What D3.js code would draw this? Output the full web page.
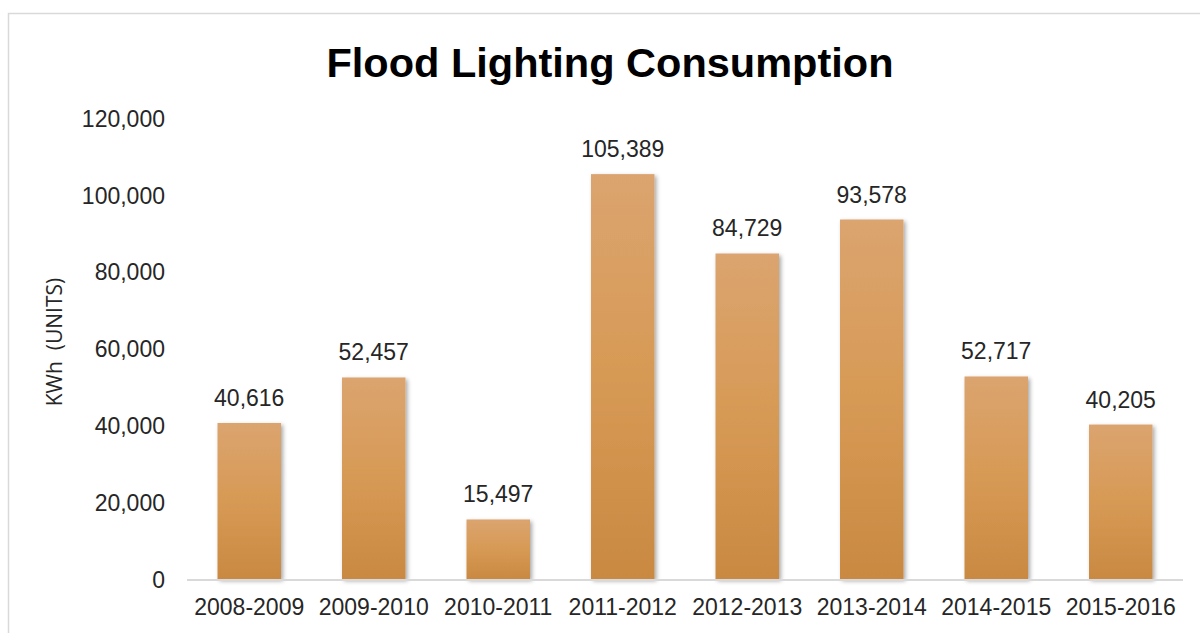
<!DOCTYPE html>
<html>
<head>
<meta charset="utf-8">
<script src="https://cdn.jsdelivr.net/npm/d3@7"></script>
<style>
  html, body { margin: 0; padding: 0; background: #fff; }
  svg { display: block; }
</style>
</head>
<body>
<svg id="chart" width="1200" height="633"></svg>
<script>
// Flood lighting consumption per financial year (KWh)
const categories = ["2008-2009", "2009-2010", "2010-2011", "2011-2012", "2012-2013", "2013-2014", "2014-2015", "2015-2016"];
const values = [40616, 52457, 15497, 105389, 84729, 93578, 52717, 40205];
const yTicks = [0, 20000, 40000, 60000, 80000, 100000, 120000];

const svg = d3.select("#chart");
const W = 1200, H = 633;
const font = "'Liberation Sans', Arial, sans-serif";
const textColor = "#262626";

const margin = { left: 187, right: 17, top: 118, bottom: 54 };
const x = d3.scaleBand().domain(categories).range([margin.left, W - margin.right]).paddingInner(0.49).paddingOuter(0.245);
const y = d3.scaleLinear().domain([0, 120000]).range([H - margin.bottom, margin.top]);

const defs = svg.append("defs");
const grad = defs.append("linearGradient").attr("id", "barFill").attr("x1", 0).attr("y1", 0).attr("x2", 0).attr("y2", 1);
grad.append("stop").attr("offset", "0%").attr("stop-color", "#DBA46F");
grad.append("stop").attr("offset", "50%").attr("stop-color", "#D79A55");
grad.append("stop").attr("offset", "100%").attr("stop-color", "#C98942");

const shadow = defs.append("filter").attr("id", "barShadow").attr("x", "-20%").attr("y", "-10%").attr("width", "150%").attr("height", "130%");
shadow.append("feDropShadow").attr("dx", 2).attr("dy", 2).attr("stdDeviation", 2).attr("flood-color", "#000").attr("flood-opacity", 0.35);

// chart frame (partly outside the page on the right and bottom)
svg.append("rect").attr("x", 8.5).attr("y", 13.5).attr("width", 1300).attr("height", 700)
  .attr("fill", "#fff").attr("stroke", "#D9D9D9").attr("stroke-width", 1.5);

// title
svg.append("text").attr("x", 610).attr("y", 77).attr("text-anchor", "middle")
  .attr("font-family", font).attr("font-weight", "bold").attr("font-size", 41.5).attr("fill", "#000")
  .text("Flood Lighting Consumption");

// y axis (labels only)
const yAxis = d3.axisLeft(y).tickValues(yTicks).tickSize(0).tickPadding(22).tickFormat(d3.format(","));
const gy = svg.append("g").attr("transform", `translate(${margin.left},0)`).call(yAxis);
gy.select(".domain").remove();
gy.selectAll("text").attr("font-family", font).attr("font-size", 23).attr("fill", textColor).attr("dy", "0.36em");

// y axis title
svg.append("text").attr("transform", `translate(62,342) rotate(-90)`).attr("text-anchor", "middle")
  .attr("font-family", "'Open Sans', sans-serif").attr("font-size", 21).attr("fill", textColor)
  .style("white-space", "pre").text("KWh  (UNITS)");

// bars
svg.append("g").selectAll("rect").data(values).join("rect")
  .attr("x", (d, i) => x(categories[i]))
  .attr("y", d => y(d))
  .attr("width", x.bandwidth())
  .attr("height", d => y(0) - y(d))
  .attr("fill", "url(#barFill)")
  .attr("filter", "url(#barShadow)");

// baseline
svg.append("line").attr("x1", margin.left).attr("x2", W - margin.right).attr("y1", y(0) + 1).attr("y2", y(0) + 1)
  .attr("stroke", "#D9D9D9").attr("stroke-width", 2);

// x axis labels
const xAxis = d3.axisBottom(x).tickSize(0).tickPadding(20);
const gx = svg.append("g").attr("transform", `translate(0,${y(0)})`).call(xAxis);
gx.select(".domain").remove();
gx.selectAll("text").attr("font-family", font).attr("font-size", 23).attr("fill", textColor);

// value labels
svg.append("g").selectAll("text").data(values).join("text")
  .attr("x", (d, i) => x(categories[i]) + x.bandwidth() / 2)
  .attr("y", d => y(d) - 17)
  .attr("text-anchor", "middle")
  .attr("font-family", font).attr("font-size", 23).attr("fill", textColor)
  .text(d => d3.format(",")(d));
</script>
</body>
</html>
